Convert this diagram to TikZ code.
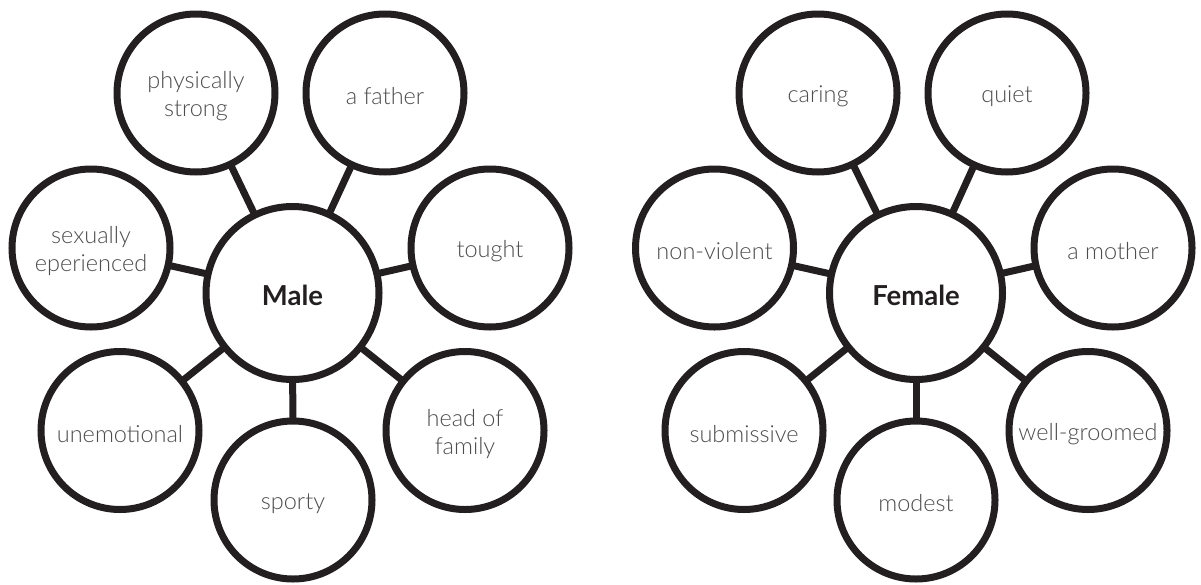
\documentclass[tikz,border=0pt]{standalone}
\usepackage{fontspec}
\setmainfont{Lato}[UprightFont={* Light},BoldFont={* Bold}]
\definecolor{ink}{HTML}{231F20}
\definecolor{txt}{HTML}{4D4D4F}
\begin{document}
\begin{tikzpicture}[x=1pt,y=-1pt,
  sat/.style={circle,draw=ink,line width=7pt,fill=white,minimum size=158pt,inner sep=0pt,outer sep=0pt},
  lab/.style={align=center,text=txt,inner sep=0pt,yshift=-3.5pt,font=\fontsize{23.5}{28}\selectfont},
  hub/.style={circle,draw=ink,line width=7pt,fill=white,minimum size=173pt,inner sep=0pt,outer sep=0pt},
  hublab/.style={text=ink,inner sep=0pt,yshift=-2.5pt,font=\fontsize{27.5}{30}\selectfont\bfseries},
  link/.style={draw=ink,line width=7pt}]
\useasboundingbox (0,0) rectangle (1201,584);
% Male
\node[hub,label={[hublab]center:Male}] (male) at (292.5,293) {};
\node[sat,label={[lab]center:physically\\strong}] (m1) at (196,93) {};
\node[sat,label={[lab]center:a father}] (m2) at (385,93) {};
\node[sat,label={[lab]center:sexually\\eperienced}] (m3) at (91,248) {};
\node[sat,label={[lab]center:tought}] (m4) at (490,248) {};
\node[sat,label={[lab]center:unemotional}] (m5) at (120,430.5) {};
\node[sat,label={[lab]center:head of\\family}] (m6) at (465,430.5) {};
\node[sat,label={[lab]center:sporty}] (m7) at (293,500) {};
\foreach \i in {1,...,7} \draw[link] (male) -- (m\i);
% Female
\node[hub,label={[hublab]center:Female}] (fem) at (916,293) {};
\node[sat,label={[lab]center:caring}] (f1) at (818,93) {};
\node[sat,label={[lab]center:quiet}] (f2) at (1007,93) {};
\node[sat,label={[lab]center:non-violent}] (f3) at (714.5,248) {};
\node[sat,label={[lab]center:a mother}] (f4) at (1113,248) {};
\node[sat,label={[lab]center:submissive}] (f5) at (744,430.5) {};
\node[sat,label={[lab]center:well-groomed}] (f6) at (1088,430.5) {};
\node[sat,label={[lab]center:modest}] (f7) at (916,500) {};
\foreach \i in {1,...,7} \draw[link] (fem) -- (f\i);
\end{tikzpicture}
\end{document}
